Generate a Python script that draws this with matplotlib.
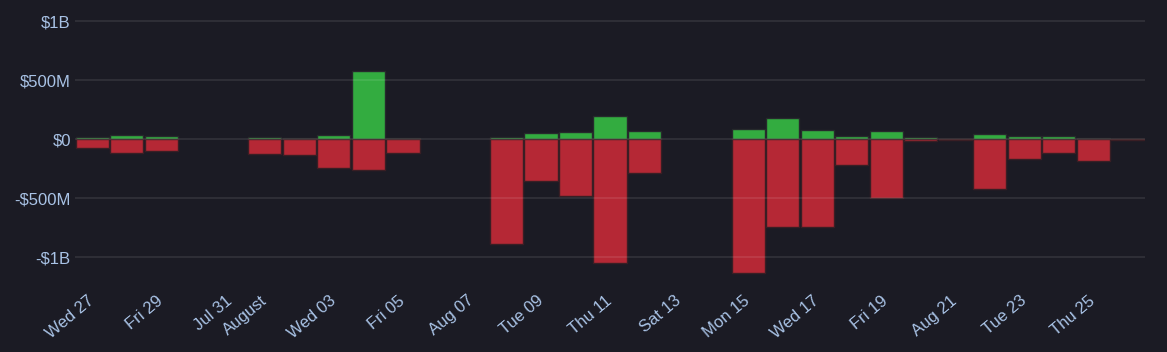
import matplotlib
matplotlib.use("Agg")
import matplotlib.pyplot as plt
import numpy as np
import pandas as pd

# Dias (27 jul -> 26 ago), entradas e saídas em milhões de dólares
dias = pd.date_range("2022-07-27", "2022-08-26", freq="D")
entradas = [15, 30, 28, 0, 0, 17, 11, 36, 573, 11, 0, 0, 20, 48, 56, 195, 70, 0, 0,
            81, 180, 73, 22, 70, 17, 0, 45, 28, 25, 8, 2]
saidas = [-78, -119, -105, 0, 0, -130, -136, -246, -260, -119, 0, 0, -887, -356, -486,
          -1054, -291, 0, 0, -1135, -749, -745, -218, -500, -20, -5, -421, -172, -119,
          -186, -8]

tick_dias = ["2022-07-27", "2022-07-29", "2022-07-31", "2022-08-01", "2022-08-03",
             "2022-08-05", "2022-08-07", "2022-08-09", "2022-08-11", "2022-08-13",
             "2022-08-15", "2022-08-17", "2022-08-19", "2022-08-21", "2022-08-23",
             "2022-08-25"]
tick_textos = ["Wed 27", "Fri 29", "Jul 31", "August", "Wed 03", "Fri 05", "Aug 07",
               "Tue 09", "Thu 11", "Sat 13", "Mon 15", "Wed 17", "Fri 19", "Aug 21",
               "Tue 23", "Thu 25"]

y_ticks = [1000, 500, 0, -500, -1000]
y_textos = ["$1B", "$500M", "$0", "-$500M", "-$1B"]

fundo = "#1b1b24"
verde = "#33ac40"
vermelho = "#b52835"
cor_texto = "#a9c3e6"

plt.rcParams["font.family"] = ["Liberation Sans", "DejaVu Sans"]

fig = plt.figure(figsize=(11.67, 3.52), dpi=100, facecolor=fundo)
ax = fig.add_axes([0.0643, 0.2028, 0.9169, 0.771], facecolor=fundo)

x = np.arange(len(dias))
ent = np.array(entradas, dtype=float)
sai = np.array(saidas, dtype=float)
tem = (ent != 0) | (sai != 0)

ax.bar(x[tem], ent[tem], width=0.96, color=verde, edgecolor="#262a2c", linewidth=1, zorder=2)
ax.bar(x[tem], sai[tem], width=0.96, color=vermelho, edgecolor="#3a1e24", linewidth=1, zorder=2)

for v in y_ticks:
    ax.axhline(v, color="#ffffff", alpha=0.1, linewidth=1.2, zorder=3)

ax.set_xlim(-0.5, len(dias) - 0.5)
ax.set_ylim(-1200, 1100)

idx = [list(dias.strftime("%Y-%m-%d")).index(d) for d in tick_dias]
ax.set_xticks(idx)
ax.set_xticklabels(tick_textos, rotation=40, ha="right", va="center",
                   rotation_mode="anchor", color=cor_texto, fontsize=12)
ax.set_yticks(y_ticks)
ax.set_yticklabels(y_textos, color=cor_texto, fontsize=12)
ax.tick_params(axis="both", length=0)
ax.tick_params(axis="x", pad=13)
ax.tick_params(axis="y", pad=3)

for s in ax.spines.values():
    s.set_visible(False)

plt.savefig("out.png", dpi=100, facecolor=fundo)
